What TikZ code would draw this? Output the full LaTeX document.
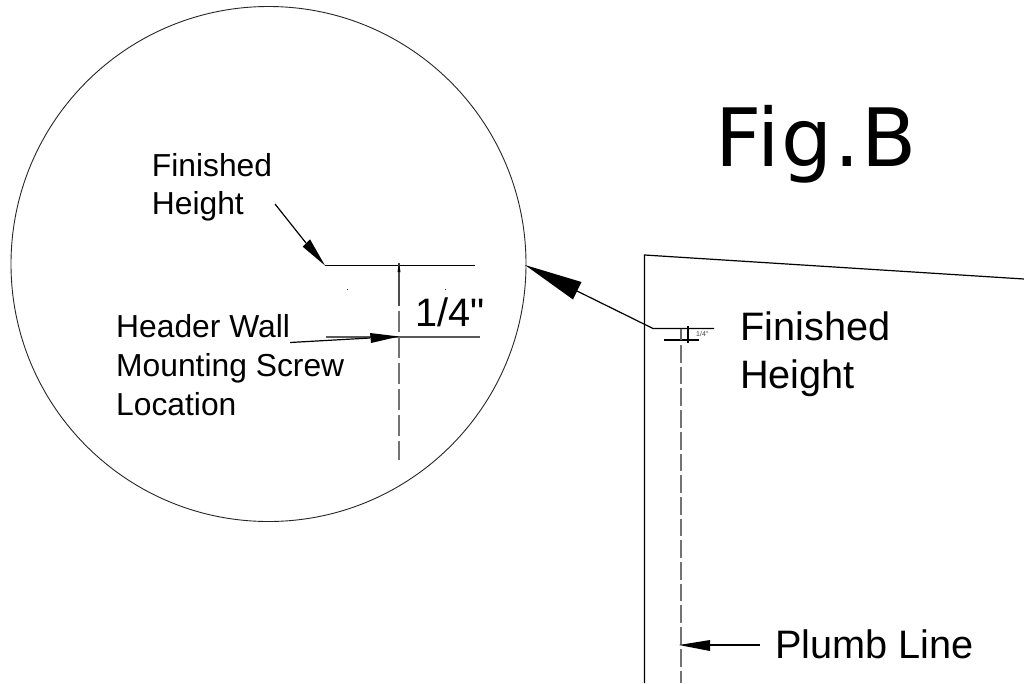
\documentclass[tikz,border=0pt]{standalone}
\usepackage{fontspec}
\setmainfont{Liberation Sans}
\newfontfamily\plainfont{Liberation Sans}
\newfontfamily\figfont[LetterSpace=2]{DejaVu Sans}
\tikzset{
  line/.style={line width=1.2pt,black},
  thinline/.style={line width=0.9pt,black!85},
  dashline/.style={line width=1.5pt,black!55,dash pattern=on 17.7pt off 4pt},
  head/.style={fill=black,draw=none},
  lab/.style={inner sep=0pt,align=left,anchor=north west},
  biglab/.style={inner sep=0pt,align=left,anchor=north west,font=\fontsize{39.7pt}{48pt}\selectfont},
}
\begin{document}
\begin{tikzpicture}[x=1pt,y=-1pt]
\useasboundingbox (0,0) rectangle (1024,683);
\fill[white] (0,0) rectangle (1024,683);
% coordinates
\coordinate (cc) at (268.5,264);
\coordinate (wallBL) at (644.5,683);
\coordinate (wallTL) at (644.5,255);
\coordinate (wallTR) at (1024,279);
\coordinate (bigTip) at (525,265);
\coordinate (bigBase) at (577,291);
\coordinate (knee) at (653,328.5);
\coordinate (fhEnd) at (714,328.5);
\coordinate (lowL) at (664,340);
\coordinate (lowR) at (699,340);
\coordinate (dt) at (681,328.5);
\coordinate (db) at (681,340);
\coordinate (dimT) at (688,326);
\coordinate (dimB) at (688,343);
\coordinate (plumbT) at (681,345);
\coordinate (plumbB) at (681,683);
\coordinate (plTip) at (679,645);
\coordinate (plBase) at (710,645);
\coordinate (plEnd) at (760,645);
\coordinate (dK) at (325,265.5);
\coordinate (dR) at (475,265.5);
\coordinate (lL) at (326,337);
\coordinate (lR) at (480,337);
\coordinate (vT) at (399,263);
\coordinate (vM) at (399,306);
\coordinate (vB) at (399,460);
\coordinate (hwS) at (290,342.5);
\coordinate (hwTip) at (399,336.5);
\coordinate (hwBase) at (370,338);
\coordinate (fS) at (275,204);
\coordinate (fBase) at (306,243);
% circle and wall
\draw[thinline] (cc) circle (257.5);
\draw[line] (wallBL) -- (wallTL) -- (wallTR);
% texts
\node[inner sep=0pt,anchor=base west,font=\fontsize{80.5pt}{84pt}\figfont] (fig) at (715.5,166.7) {Fig.B};
\node[lab,font=\fontsize{31.8pt}{38pt}\selectfont] (t1) at (151.7,153) {Finished\\Height};
\node[lab,font=\fontsize{31.8pt}{39pt}\selectfont] (t2) at (116,314.7) {Header Wall\\Mounting Screw\\Location};
\node[biglab] (t3) at (740,312) {Finished\\Height};
\node[inner sep=0pt,anchor=base west,font=\fontsize{39.7pt}{48pt}\selectfont] (t4) at (775,658.5) {Plumb Line};
\node[inner sep=0pt,anchor=base west,font=\fontsize{39.7pt}{48pt}\plainfont] (t5) at (415,326) {1/4"};
\node[inner sep=0pt,anchor=base west,font=\fontsize{7pt}{8pt}\plainfont,text=black!75] (t6) at (696,336) {1/4"};
% big arrow
\draw[line] (bigBase) -- (knee) -- (fhEnd);
\fill[head] (bigTip) -- (581.5,282) -- (573,299.5) -- cycle;
% mini dimension
\draw[line] (lowL) -- (lowR);
\draw[line,black!60] (dt) -- (db);
\draw[line,line width=1.5pt] (dimT) -- (dimB);
\draw[dashline] (plumbT) -- (plumbB);
% plumb arrow
\draw[line] (plBase) -- (plEnd);
\fill[head] (plTip) -- (710,640) -- (710,651) -- cycle;
% detail
\draw[line] (dK) -- (dR);
\draw[line,black!65] (lL) -- (lR);
\draw[line,black!70] (vT) -- (vM);
\draw[dashline,line width=1.2pt,dash pattern=on 21pt off 5pt] (399,311) -- (vB);
\fill[head] (vT) -- (397.5,272) -- (400.5,272) -- cycle;
\draw[line] (hwS) -- (hwBase);
\fill[head] (hwTip) -- (370,333) -- (371,343) -- cycle;
\draw[line] (fS) -- (fBase);
\fill[head] (dK) -- (302.7,246.7) -- (310,239.3) -- cycle;
\fill (347.5,289.5) circle (0.5);
\fill (445.5,289.5) circle (0.5);
\end{tikzpicture}
\end{document}
